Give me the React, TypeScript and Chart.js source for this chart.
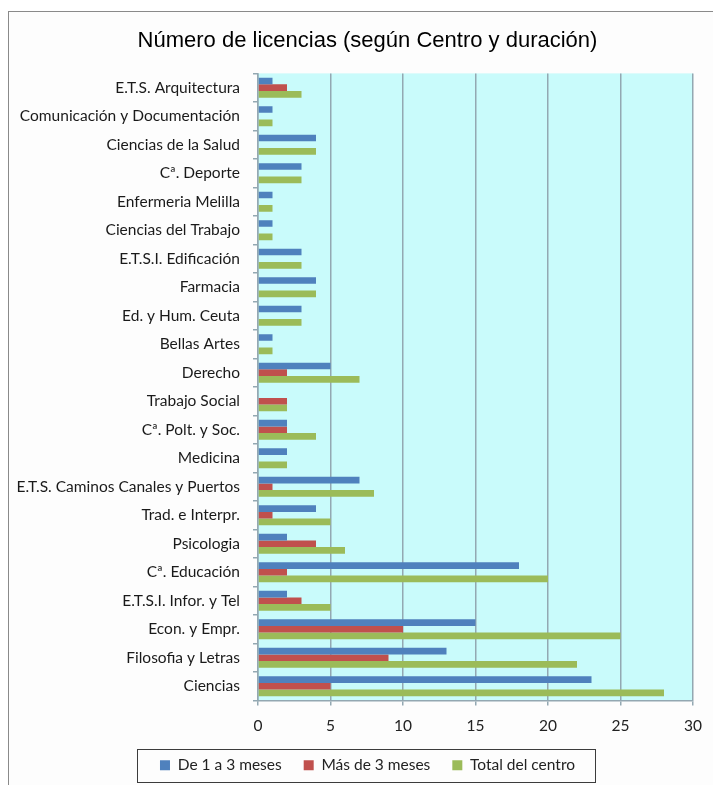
import React, { useEffect, useRef } from "react";
import { Chart, registerables } from "chart.js";

Chart.register(...registerables);

const categories = [
  "E.T.S. Arquitectura",
  "Comunicación y Documentación",
  "Ciencias de la Salud",
  "Cª. Deporte",
  "Enfermeria Melilla",
  "Ciencias del Trabajo",
  "E.T.S.I. Edificación",
  "Farmacia",
  "Ed. y Hum. Ceuta",
  "Bellas Artes",
  "Derecho",
  "Trabajo Social",
  "Cª. Polt. y Soc.",
  "Medicina",
  "E.T.S. Caminos Canales y Puertos",
  "Trad. e Interpr.",
  "Psicologia",
  "Cª. Educación",
  "E.T.S.I. Infor. y Tel",
  "Econ. y Empr.",
  "Filosofia y Letras",
  "Ciencias",
];

const de1a3Meses = [1, 1, 4, 3, 1, 1, 3, 4, 3, 1, 5, 0, 2, 2, 7, 4, 2, 18, 2, 15, 13, 23];
const masDe3Meses = [2, 0, 0, 0, 0, 0, 0, 0, 0, 0, 2, 2, 2, 0, 1, 1, 4, 2, 3, 10, 9, 5];
const totalCentro = [3, 1, 4, 3, 1, 1, 3, 4, 3, 1, 7, 2, 4, 2, 8, 5, 6, 20, 5, 25, 22, 28];

const seriesNames = ["De 1 a 3 meses", "Más de 3 meses", "Total del centro"];
const titleText = "Número de licencias (según Centro y duración)";
const xMin = 0;
const xMax = 30;
const xStep = 5;

const FONT = "Lato, 'Open Sans', 'Liberation Sans', sans-serif";

const plotBgPlugin = {
  id: "plotBg",
  afterLayout(chart: any) {
    // widen only the label clip area of the y axis so long labels are not cut
    if (chart.scales && chart.scales.y) chart.scales.y.left = 0;
  },
  beforeDraw(chart: any) {
    const { ctx, chartArea } = chart;
    ctx.save();
    ctx.fillStyle = "#c9fbfb";
    ctx.fillRect(chartArea.left, chartArea.top, chartArea.right - chartArea.left, chartArea.bottom - chartArea.top);
    ctx.restore();
  },
};

const legendBoxPlugin = {
  id: "legendBox",
  afterDraw(chart: any) {
    const lg = chart.legend;
    if (!lg || !lg.legendHitBoxes || !lg.legendHitBoxes.length) return;
    const hb = lg.legendHitBoxes;
    let minX = Infinity;
    let maxX = -Infinity;
    let cy = 0;
    hb.forEach((b: any) => {
      minX = Math.min(minX, b.left);
      maxX = Math.max(maxX, b.left + b.width);
      cy = b.top + b.height / 2;
    });
    const { ctx } = chart;
    ctx.save();
    ctx.strokeStyle = "#3c3c3c";
    ctx.lineWidth = 1;
    const left = Math.round(minX - 23) + 0.5;
    const right = Math.round(maxX + 20) + 0.5;
    const top = Math.round(cy - 16) + 0.5;
    const bottom = Math.round(cy + 17) + 0.5;
    ctx.strokeRect(left, top, right - left, bottom - top);
    ctx.restore();
  },
};

export default function App() {
  const canvasRef = useRef<HTMLCanvasElement | null>(null);

  useEffect(() => {
    if (!canvasRef.current) return;
    const chart = new Chart(canvasRef.current, {
      type: "bar",
      data: {
        labels: categories,
        datasets: [
          { label: seriesNames[0], data: de1a3Meses, backgroundColor: "#4f81bd" },
          { label: seriesNames[1], data: masDe3Meses, backgroundColor: "#c0504d" },
          { label: seriesNames[2], data: totalCentro, backgroundColor: "#9bbb59" },
        ],
      },
      options: {
        indexAxis: "y",
        responsive: false,
        animation: false,
        devicePixelRatio: 1,
        datasets: {
          bar: { categoryPercentage: 0.7, barPercentage: 1.0 },
        },
        layout: { padding: { left: 42, right: 20, top: 0, bottom: 2 } },
        scales: {
          x: {
            min: xMin,
            max: xMax,
            afterFit(scale: any) {
              scale.height = 35;
            },
            ticks: {
              stepSize: xStep,
              color: "#222",
              padding: 11,
              font: { family: FONT, size: 15.5 },
            },
            grid: {
              color: "#93a8b2",
              lineWidth: 1.5,
              tickLength: 5,
              drawTicks: true,
            },
            border: { display: true, color: "#93a8b2", width: 1.5 },
          },
          y: {
            afterFit(scale: any) {
              scale.width = 216;
            },
            ticks: {
              color: "#1a1a1a",
              padding: 13,
              autoSkip: false,
              font: { family: FONT, size: 15.5 },
            },
            grid: {
              offset: true,
              drawOnChartArea: false,
              color: "#93a8b2",
              tickLength: 5,
              lineWidth: 1.5,
            },
            border: { display: true, color: "#93a8b2", width: 1.5 },
          },
        },
        plugins: {
          title: {
            display: true,
            text: titleText,
            color: "#000",
            font: { family: "'Liberation Sans Narrow', 'Liberation Sans', Arial, sans-serif", size: 22, weight: "normal" },
            padding: { top: 28, bottom: 19 },
          },
          legend: {
            display: true,
            position: "bottom",
            labels: {
              boxWidth: 10,
              boxHeight: 10,
              padding: 22,
              color: "#222",
              font: { family: FONT, size: 15.5 },
            },
          },
          tooltip: { enabled: false },
        },
      },
      plugins: [plotBgPlugin, legendBoxPlugin],
    } as any);
    return () => chart.destroy();
  }, []);

  return (
    <div style={{ position: "fixed", left: 0, top: 0, width: 713, height: 785, overflow: "hidden", background: "#fff" }}>
      <div
        style={{
          position: "absolute",
          left: 8,
          top: 11,
          width: 740,
          height: 800,
          border: "1px solid #8a8a8a",
          background: "#fdfdfd",
        }}
      />
      <canvas ref={canvasRef} width={713} height={785} style={{ position: "absolute", left: 0, top: 0 }} />
    </div>
  );
}
